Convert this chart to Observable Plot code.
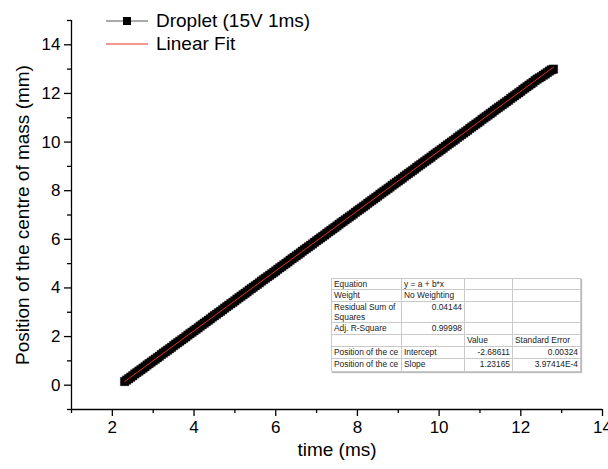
<!DOCTYPE html>
<html>
<head>
<meta charset="utf-8">
<script src="https://cdn.jsdelivr.net/npm/d3@7"></script>
<script src="https://cdn.jsdelivr.net/npm/@observablehq/plot@0.6"></script>
<style>
  html, body { margin: 0; padding: 0; background: #fff; }
  #wrap { position: relative; width: 608px; height: 469px; overflow: hidden; font-family: "Liberation Sans", Arial, sans-serif; }
  #legend { position: absolute; left: 106px; top: 9px; font-size: 19px; color: #000; }
  #legend .row { display: flex; align-items: center; height: 23px; }
  #legend svg { margin-right: 8px; }
  #stats { position: absolute; left: 331px; top: 278px; border-collapse: collapse; background: #fff;
           font-size: 8.4px; color: #222; table-layout: fixed; box-shadow: 1px 1px 1px #bbb; border: 1px solid #9a9a9a; }
  #stats td { border: 1px solid #c9c9c9; padding: 0 2px; white-space: nowrap; overflow: hidden; vertical-align: top; line-height: 10px; }
  #stats td.wrap { white-space: normal; }
  #stats td.num { text-align: right; }
</style>
</head>
<body>
<div id="wrap"></div>
<script>
// ---- data ----
const times = [2.30,2.35,2.40,2.45,2.50,2.55,2.60,2.65,2.70,2.75,2.80,2.85,2.90,2.95,3.00,3.05,3.10,3.15,3.20,3.25,3.30,3.35,3.40,3.45,3.50,3.55,3.60,3.65,3.70,3.75,3.80,3.85,3.90,3.95,
  4.00,4.05,4.10,4.15,4.20,4.25,4.30,4.35,4.40,4.45,4.50,4.55,4.60,4.65,4.70,4.75,4.80,4.85,4.90,4.95,
  5.00,5.05,5.10,5.15,5.20,5.25,5.30,5.35,5.40,5.45,5.50,5.55,5.60,5.65,5.70,5.75,5.80,5.85,5.90,5.95,
  6.00,6.05,6.10,6.15,6.20,6.25,6.30,6.35,6.40,6.45,6.50,6.55,6.60,6.65,6.70,6.75,6.80,6.85,6.90,6.95,
  7.00,7.05,7.10,7.15,7.20,7.25,7.30,7.35,7.40,7.45,7.50,7.55,7.60,7.65,7.70,7.75,7.80,7.85,7.90,7.95,
  8.00,8.05,8.10,8.15,8.20,8.25,8.30,8.35,8.40,8.45,8.50,8.55,8.60,8.65,8.70,8.75,8.80,8.85,8.90,8.95,
  9.00,9.05,9.10,9.15,9.20,9.25,9.30,9.35,9.40,9.45,9.50,9.55,9.60,9.65,9.70,9.75,9.80,9.85,9.90,9.95,
  10.00,10.05,10.10,10.15,10.20,10.25,10.30,10.35,10.40,10.45,10.50,10.55,10.60,10.65,10.70,10.75,10.80,10.85,10.90,10.95,
  11.00,11.05,11.10,11.15,11.20,11.25,11.30,11.35,11.40,11.45,11.50,11.55,11.60,11.65,11.70,11.75,11.80,11.85,11.90,11.95,
  12.00,12.05,12.10,12.15,12.20,12.25,12.30,12.35,12.40,12.45,12.50,12.55,12.60,12.65,12.70,12.75,12.80];
const positions = [0.15,0.21,0.27,0.33,0.39,0.46,0.52,0.58,0.64,0.70,0.76,0.83,0.89,0.95,1.01,1.07,1.13,1.19,1.26,1.32,1.38,1.44,1.50,1.56,1.63,1.69,1.75,1.81,1.87,1.93,1.99,2.06,2.12,2.18,
  2.24,2.30,2.36,2.43,2.49,2.55,2.61,2.67,2.73,2.80,2.86,2.92,2.98,3.04,3.10,3.17,3.23,3.29,3.35,3.41,
  3.47,3.54,3.60,3.66,3.72,3.78,3.84,3.91,3.97,4.03,4.09,4.15,4.21,4.28,4.34,4.40,4.46,4.52,4.58,4.64,
  4.70,4.77,4.83,4.89,4.95,5.01,5.07,5.14,5.20,5.26,5.32,5.38,5.44,5.51,5.57,5.63,5.69,5.75,5.81,5.88,
  5.94,6.00,6.06,6.12,6.18,6.25,6.31,6.37,6.43,6.49,6.55,6.62,6.68,6.74,6.80,6.86,6.92,6.98,7.04,7.11,
  7.17,7.23,7.29,7.35,7.41,7.48,7.54,7.60,7.66,7.72,7.78,7.85,7.91,7.97,8.03,8.09,8.15,8.22,8.28,8.34,
  8.40,8.46,8.52,8.59,8.65,8.71,8.77,8.83,8.89,8.96,9.02,9.08,9.14,9.20,9.26,9.32,9.38,9.45,9.51,9.57,
  9.63,9.69,9.75,9.82,9.88,9.94,10.00,10.06,10.12,10.19,10.25,10.31,10.37,10.43,10.49,10.56,10.62,10.68,10.74,10.80,
  10.86,10.93,10.99,11.05,11.11,11.17,11.23,11.30,11.36,11.42,11.48,11.54,11.60,11.66,11.72,11.79,11.85,11.91,11.97,12.03,
  12.09,12.16,12.22,12.28,12.34,12.40,12.46,12.53,12.59,12.64,12.69,12.75,12.80,12.86,12.92,12.97,13.00];
const fitIntercept = -2.68611;
const fitSlope = 1.23165;
const seriesNames = ["Droplet (15V 1ms)", "Linear Fit"];
const xMajorTicks = [2, 4, 6, 8, 10, 12, 14];
const xMinorTicks = [1, 3, 5, 7, 9, 11, 13];
const yMajorTicks = [0, 2, 4, 6, 8, 10, 12, 14];
const yMinorTicks = [-1, 1, 3, 5, 7, 9, 11, 13, 15];
const xTitle = "time (ms)";
const yTitle = "Position of the centre of mass (mm)";
const tableRows = [
  ["Equation", "y = a + b*x", "", ""],
  ["Weight", "No Weighting", "", ""],
  ["Residual Sum of Squares", "0.04144", "", ""],
  ["Adj. R-Square", "0.99998", "", ""],
  ["", "", "Value", "Standard Error"],
  ["Position of the ce", "Intercept", "-2.68611", "0.00324"],
  ["Position of the ce", "Slope", "1.23165", "3.97414E-4"]
];

// ---- build ----
const n = Math.min(times.length, positions.length);
const pts = d3.range(n).map(i => ({t: times[i], y: positions[i]}));
const tFirst = times[0], tLast = times[n - 1];
const fit = [tFirst, tLast].map(t => ({t, y: fitIntercept + fitSlope * t}));

const RED = "#e2321f";

const chart = Plot.plot({
  width: 608,
  height: 469,
  marginLeft: 71,
  marginRight: 6,
  marginTop: 20,
  marginBottom: 60,
  x: {domain: [1, 14]},
  y: {domain: [-1, 15]},
  style: {fontFamily: "'Liberation Sans', Arial, sans-serif", background: "transparent", color: "#000", overflow: "visible"},
  marks: [
    Plot.line(pts, {x: "t", y: "y", stroke: "#000", strokeWidth: 1}),
    Plot.dot(pts, {x: "t", y: "y", symbol: "square", r: 4.8, fill: "#000", stroke: "#000", strokeWidth: 0.3}),
    Plot.line(fit, {x: "t", y: "y", stroke: RED, strokeWidth: 1}),
    Plot.ruleX([1], {stroke: "#000", strokeWidth: 1.3}),
    Plot.ruleY([-1], {stroke: "#000", strokeWidth: 1.3}),
    Plot.axisX(xMajorTicks, {tickSize: 7, tickPadding: 4, fontSize: 17, label: null, strokeWidth: 1.3}),
    Plot.axisX(xMinorTicks, {tickSize: 4, tickFormat: () => "", label: null, strokeWidth: 1.3}),
    Plot.axisY(yMajorTicks, {tickSize: 7, tickPadding: 4, fontSize: 17, label: null, strokeWidth: 1.3}),
    Plot.axisY(yMinorTicks, {tickSize: 4, tickFormat: () => "", label: null, strokeWidth: 1.3}),
    Plot.text([xTitle], {frameAnchor: "bottom", dy: 46, fontSize: 19, fill: "#000"}),
    Plot.text([yTitle], {frameAnchor: "left", textAnchor: "middle", dx: -49, rotate: -90, fontSize: 19, fill: "#000"})
  ]
});

const wrap = document.getElementById("wrap");
wrap.appendChild(chart);

// legend
const legend = document.createElement("div");
legend.id = "legend";
seriesNames.forEach((name, i) => {
  const row = document.createElement("div");
  row.className = "row";
  const sw = i === 0
    ? `<svg width="42" height="12"><line x1="0" y1="6" x2="42" y2="6" stroke="#555" stroke-width="1"/><rect x="17" y="2" width="8" height="8" fill="#000"/></svg>`
    : `<svg width="42" height="12"><line x1="0" y1="6" x2="42" y2="6" stroke="${RED}" stroke-width="1"/></svg>`;
  row.innerHTML = sw + `<span>${name}</span>`;
  legend.appendChild(row);
});
wrap.appendChild(legend);

// stats table
const colWidths = [70, 63, 48, 68];
const rowHeights = [11, 12, 21, 12, 12, 12, 13];
const table = document.createElement("table");
table.id = "stats";
const cg = document.createElement("colgroup");
colWidths.forEach(w => { const c = document.createElement("col"); c.style.width = w + "px"; cg.appendChild(c); });
table.appendChild(cg);
tableRows.forEach((r, ri) => {
  const tr = document.createElement("tr");
  tr.style.height = rowHeights[ri] + "px";
  r.forEach((cell, ci) => {
    const td = document.createElement("td");
    td.textContent = cell;
    const isNum = /^[-0-9.E]+$/.test(cell) && cell !== "";
    if (isNum) td.className = "num";
    if (ri === 2 && ci === 0) td.className = "wrap";
    tr.appendChild(td);
  });
  table.appendChild(tr);
});
wrap.appendChild(table);
</script>
</body>
</html>
